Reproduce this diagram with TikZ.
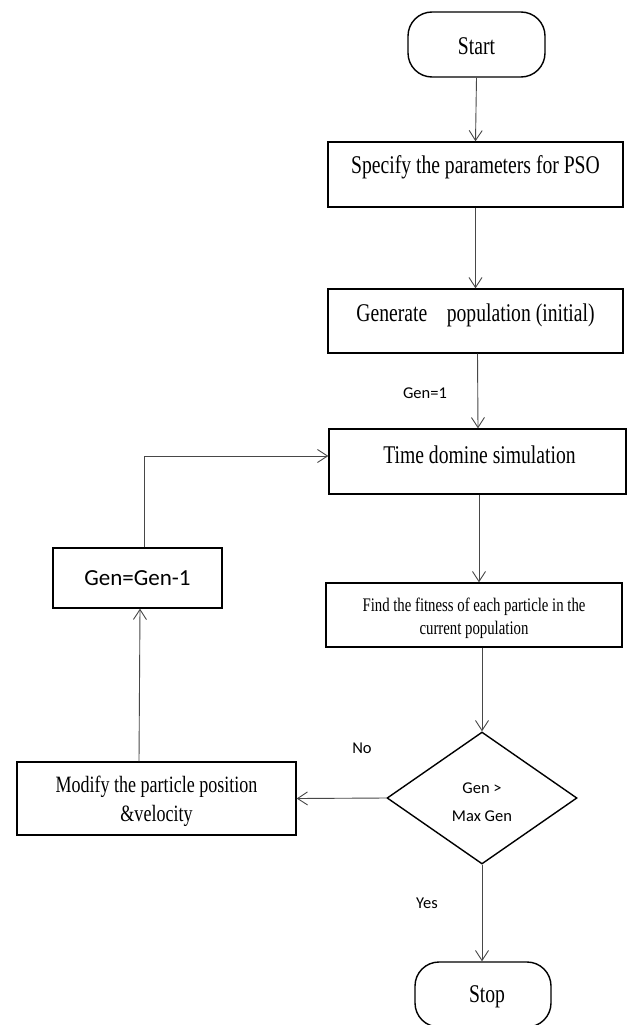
\documentclass[tikz,border=0pt]{standalone}
\usepackage{fontspec}
\usetikzlibrary{shapes.geometric,arrows.meta}
\newfontfamily\boxfont[FakeStretch=0.77]{Liberation Serif}
\newfontfamily\lblfont{Carlito}
\newcommand{\bigtxt}{\boxfont\fontsize{25.5}{30}\selectfont}
\newcommand{\midtxt}{\boxfont\fontsize{23.4}{29}\selectfont}
\newcommand{\smalltxt}{\boxfont\fontsize{19.2}{24}\selectfont}
\newcommand{\lbltxt}{\lblfont\fontsize{16.5}{28}\selectfont}
\newcommand{\up}[2]{\raisebox{#1}[\height][\depth]{#2}}
\begin{document}
\begin{tikzpicture}[x=1pt,y=-1pt,
  procbox/.style={draw=black, line width=1.4pt, rectangle, inner sep=0pt, align=center},
  termbox/.style={draw=black, line width=1.4pt, rectangle, rounded corners=24pt, inner sep=0pt,
    minimum width=137pt, minimum height=65pt},
  decbox/.style={draw=black, line width=1.4pt, diamond, shape aspect=1.44, inner sep=0pt,
    minimum width=190pt, minimum height=132pt, align=center},
  arr/.style={draw=black!72, line width=0.9pt, -{Straight Barb[length=10pt,width=13pt]}},
  lbl/.style={inner sep=0pt}]
\useasboundingbox (0,0) rectangle (629,1025);
\fill[white] (0,0) rectangle (629,1025);

\node[termbox] (start) at (476.5,44.5) {\bigtxt\up{-2pt}{Start}};
\node[procbox, minimum width=295pt, minimum height=65pt] (spec) at (475.5,174.5)
  {\bigtxt\up{7.5pt}{Specify the parameters for PSO}};
\node[procbox, minimum width=295pt, minimum height=64pt] (gen) at (475.5,321)
  {\bigtxt\up{6pt}{Generate\ \ \ \ population (initial)}};
\node[lbl] (g1) at (425,393) {\lbltxt Gen=1};
\node[procbox, minimum width=297pt, minimum height=65pt] (time) at (477.5,461.5)
  {\bigtxt\up{6.5pt}{\hspace{4pt}Time domine simulation}};
\node[procbox, minimum width=296pt, minimum height=64pt] (fit) at (474,615)
  {\smalltxt\up{-3pt}{\begin{tabular}{@{}c@{}}Find the fitness of each particle in the\\[-1pt] current population\end{tabular}}};
\node[decbox] (dec) at (482,798)
  {\lbltxt\up{-4pt}{\begin{tabular}{@{}c@{}}Gen >\\[0pt] Max Gen\end{tabular}}};
\node[lbl] (no) at (362,748) {\lbltxt No};
\node[lbl] (yes) at (427,903) {\lbltxt Yes};
\node[termbox, minimum width=136pt] (stop) at (483,994.5) {\bigtxt\up{-2pt}{\hspace{8pt}Stop}};
\node[procbox, minimum width=279pt, minimum height=73pt] (mod) at (156.5,798.5)
  {\midtxt\up{-3pt}{\begin{tabular}{@{}c@{}}Modify the particle position\\[0pt] \&velocity\end{tabular}}};
\node[procbox, minimum width=169pt, minimum height=60pt] (genm) at (137.5,578)
  {\lblfont\fontsize{23}{28}\selectfont Gen=Gen-1};

\draw[arr] (start.south) -- (spec.north);
\draw[arr] (spec.south) -- (gen.north);
\draw[arr] ([xshift=2pt]gen.south) -- ([xshift=0.5pt]time.north);
\draw[arr] ([xshift=1.5pt]time.south) -- ([xshift=5pt]fit.north);
\draw[arr] ([xshift=8pt]fit.south) -- (dec.north);
\draw[arr] (dec.south) -- ([xshift=-1pt]stop.north);
\draw[arr] (dec.west) -- (mod.east);
\draw[arr] ([xshift=-17.5pt]mod.north) -- ([xshift=2.5pt]genm.south);
\draw[arr] ([xshift=6.5pt]genm.north) |- ([yshift=5.5pt]time.west);
\end{tikzpicture}
\end{document}
